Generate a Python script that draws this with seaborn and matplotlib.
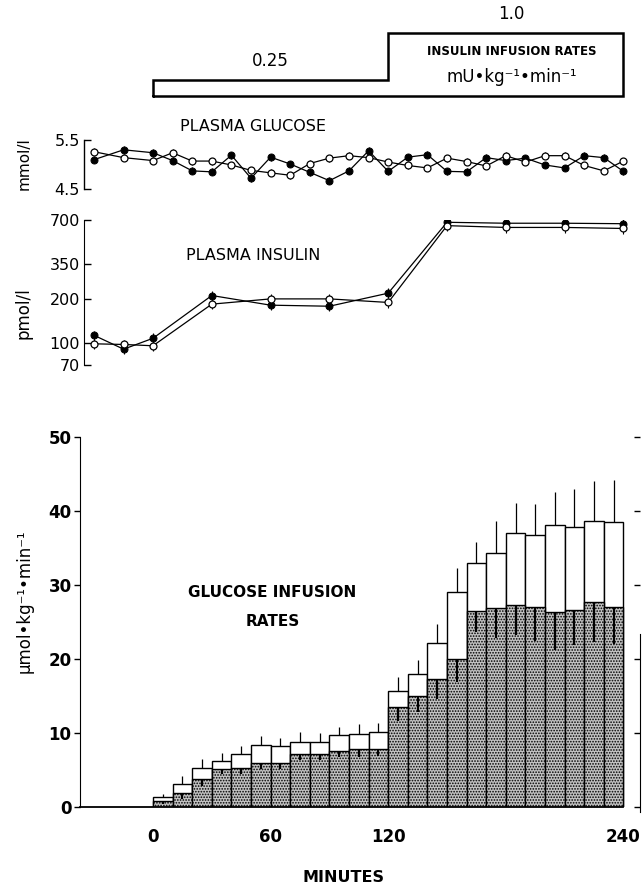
import numpy as np
import matplotlib
matplotlib.use("Agg")
import matplotlib.pyplot as plt
from matplotlib.ticker import NullLocator
import seaborn as sns

# insulin infusion protocol (mU/kg/min)
infusion_edges = [0, 120, 240]
infusion_rates = [0.25, 1.0]

# plasma glucose, mmol/l (filled = group 1, open = group 2)
glucose_minutes = [-30, -15, 0, 10, 20, 30, 40, 50, 60, 70, 80, 90, 100, 110,
                   120, 130, 140, 150, 160, 170, 180, 190, 200, 210, 220, 230, 240]
glucose_filled = [5.10, 5.30, 5.24, 5.08, 4.87, 4.85, 5.19, 4.72, 5.15, 5.01, 4.84, 4.67, 4.87, 5.28,
                  4.86, 5.15, 5.20, 4.86, 4.85, 5.14, 5.08, 5.13, 4.99, 4.93, 5.18, 5.14, 4.86]
glucose_open = [5.26, 5.14, 5.08, 5.24, 5.07, 5.07, 4.99, 4.88, 4.83, 4.78, 5.02, 5.13, 5.18, 5.14,
                5.05, 4.98, 4.93, 5.13, 5.06, 4.97, 5.18, 5.05, 5.18, 5.18, 4.98, 4.87, 5.07]
glucose_sem = 0.07

# plasma insulin, pmol/l
insulin_minutes = [-30, -15, 0, 30, 60, 90, 120, 150, 180, 210, 240]
insulin_filled = [112, 90, 107, 211, 181, 178, 219, 675, 665, 665, 660]
insulin_open = [98, 97, 95, 184, 200, 200, 189, 640, 622, 622, 612]
insulin_sem_frac = 0.08

# glucose infusion rates, umol/kg/min, 10-min periods
period_start = [0, 10, 20, 30, 40, 50, 60, 70, 80, 90, 100, 110,
                120, 130, 140, 150, 160, 170, 180, 190, 200, 210, 220, 230]
gir_total = [1.3, 3.1, 5.3, 6.2, 7.2, 8.4, 8.2, 8.8, 8.8, 9.7, 9.9, 10.1,
             15.7, 18.0, 22.2, 29.1, 33.0, 34.3, 37.0, 36.7, 38.1, 37.9, 38.6, 38.5]
gir_total_err = [0.5, 1.1, 1.2, 1.1, 1.1, 1.2, 1.1, 1.4, 1.2, 1.1, 1.3, 1.3,
                 1.9, 1.9, 2.5, 3.2, 2.8, 4.3, 4.1, 4.2, 4.5, 5.1, 5.5, 5.7]
gir_stippled = [0.8, 1.9, 3.8, 5.2, 5.3, 6.0, 6.0, 7.2, 7.2, 7.6, 7.8, 7.8,
                13.5, 15.0, 17.3, 20.0, 26.5, 26.9, 27.3, 27.0, 26.4, 26.6, 27.7, 27.0]
gir_stippled_err = [0.4, 0.8, 1.0, 0.8, 0.8, 0.9, 0.9, 0.9, 0.8, 0.9, 1.0, 0.9,
                    1.9, 2.1, 2.7, 3.1, 2.9, 4.1, 4.1, 4.5, 5.2, 4.7, 5.4, 5.0]

sns.set_style("white")
plt.rcParams["font.family"] = ["DejaVu Sans"]
plt.rcParams["hatch.linewidth"] = 0.8
plt.rcParams["hatch.color"] = "#3a3a3a"
for key in ["text.color", "axes.labelcolor", "xtick.color", "ytick.color", "axes.edgecolor"]:
    plt.rcParams[key] = "black"

W, H = 644, 889
X0, XS = 153, 1.96  # pixel of minute 0, pixels per minute

fig = plt.figure(figsize=(W / 100, H / 100), dpi=100)


def add_ax(left, top, right, bottom):
    ax = fig.add_axes([left / W, 1 - bottom / H, (right - left) / W, (bottom - top) / H])
    ax.set_xlim((left - X0) / XS, (right - X0) / XS)
    return ax


# ---- insulin infusion box ----
ax_box = add_ax(80, 0, 640, 100)
ax_box.set_ylim(-4 / 63, 96 / 63)
bx = [infusion_edges[0], infusion_edges[0], infusion_edges[1], infusion_edges[1],
      infusion_edges[2], infusion_edges[2], infusion_edges[0]]
by = [0, infusion_rates[0], infusion_rates[0], infusion_rates[1], infusion_rates[1], 0, 0]
ax_box.plot(bx, by, color="black", lw=1.8, solid_joinstyle="miter")
ax_box.text(60, infusion_rates[0] + 0.3, "0.25", ha="center", va="center", fontsize=12)
ax_box.text(183, infusion_rates[1] + 0.3, "1.0", ha="center", va="center", fontsize=12)
ax_box.text(183, 0.70, "INSULIN INFUSION RATES", ha="center", va="center", fontsize=8.5, fontweight="bold")
ax_box.text(183, 0.30, "mU•kg⁻¹•min⁻¹", ha="center", va="center", fontsize=12)
ax_box.axis("off")

# ---- plasma glucose ----
ax_glu = add_ax(84, 140, 640, 189)
ax_glu.errorbar(glucose_minutes, glucose_filled, yerr=glucose_sem, fmt="none", ecolor="black", elinewidth=0.8)
ax_glu.errorbar(glucose_minutes, glucose_open, yerr=glucose_sem, fmt="none", ecolor="black", elinewidth=0.8)
sns.lineplot(x=glucose_minutes, y=glucose_filled, ax=ax_glu, color="black", lw=0.9, marker="o",
             markersize=5, markerfacecolor="black", markeredgecolor="black")
sns.lineplot(x=glucose_minutes, y=glucose_open, ax=ax_glu, color="black", lw=0.9, marker="o",
             markersize=5, markerfacecolor="white", markeredgecolor="black", markeredgewidth=0.9)
ax_glu.set_ylim(4.5, 5.5)
ax_glu.set_yticks([4.5, 5.5])
ax_glu.set_yticklabels(["4.5", "5.5"], fontsize=11.5)
ax_glu.set_xticks([])
for s in ["top", "right", "bottom"]:
    ax_glu.spines[s].set_visible(False)
ax_glu.spines["left"].set_linewidth(1.0)
ax_glu.tick_params(axis="y", direction="in", length=5, width=1.0, pad=3, left=True)
ax_glu.text(51, 5.77, "PLASMA GLUCOSE", ha="center", va="center", fontsize=11.5)
ax_glu.set_ylabel("")
fig.text(24 / W, 1 - 164 / H, "mmol/l", rotation=90, ha="center", va="center", fontsize=11)

# ---- plasma insulin ----
ax_ins = add_ax(84, 220, 640, 365)
ax_ins.set_yscale("log")
ins_err_f = [v * insulin_sem_frac for v in insulin_filled]
ins_err_o = [v * insulin_sem_frac for v in insulin_open]
ax_ins.errorbar(insulin_minutes, insulin_filled, yerr=ins_err_f, fmt="none", ecolor="black", elinewidth=0.8)
ax_ins.errorbar(insulin_minutes, insulin_open, yerr=ins_err_o, fmt="none", ecolor="black", elinewidth=0.8)
sns.lineplot(x=insulin_minutes, y=insulin_filled, ax=ax_ins, color="black", lw=0.9, marker="o",
             markersize=5, markerfacecolor="black", markeredgecolor="black")
sns.lineplot(x=insulin_minutes, y=insulin_open, ax=ax_ins, color="black", lw=0.9, marker="o",
             markersize=5, markerfacecolor="white", markeredgecolor="black", markeredgewidth=0.9)
ax_ins.set_ylim(70, 700)
ax_ins.set_yticks([70, 100, 200, 350, 700])
ax_ins.set_yticklabels(["70", "100", "200", "350", "700"], fontsize=11.5)
ax_ins.yaxis.set_minor_locator(NullLocator())
ax_ins.set_xticks([])
for s in ["top", "right", "bottom"]:
    ax_ins.spines[s].set_visible(False)
ax_ins.tick_params(axis="y", direction="in", length=5, width=1.0, pad=3, left=True)
ax_ins.text(51, 400, "PLASMA INSULIN", ha="center", va="center", fontsize=11.5)
ax_ins.set_ylabel("")
fig.text(23 / W, 1 - 313 / H, "pmol/l", rotation=90, ha="center", va="center", fontsize=12)

# ---- glucose infusion rates ----
ax_bar = add_ax(80, 437, 640, 807)
mid = [t + 5 for t in period_start]
sns.barplot(x=mid, y=gir_total, ax=ax_bar, native_scale=True, width=1, color="white",
            saturation=1, edgecolor="black", linewidth=1.0, errorbar=None)
n_white = len(ax_bar.patches)
sns.barplot(x=mid, y=gir_stippled, ax=ax_bar, native_scale=True, width=1, color="#c2c2c2",
            saturation=1, edgecolor="black", linewidth=1.0, errorbar=None)
for p in ax_bar.patches[n_white:]:
    p.set_hatch("......")
zeros = [0] * len(mid)
ax_bar.errorbar(mid, gir_total, yerr=[zeros, gir_total_err], fmt="none", ecolor="black", elinewidth=0.9)
ax_bar.errorbar(mid, gir_stippled, yerr=[gir_stippled_err, zeros], fmt="none", ecolor="black", elinewidth=1.6)

ax_bar.set_xlim((80 - X0) / XS, (640 - X0) / XS)
ax_bar.set_ylim(0, 50)
ax_bar.set_yticks([0, 10, 20, 30, 40, 50])
ax_bar.set_yticklabels(["0", "10", "20", "30", "40", "50"], fontsize=12, fontweight="bold")
ax_bar.set_xticks([0, 60, 120, 240])
ax_bar.set_xticklabels(["0", "60", "120", "240"], fontsize=12, fontweight="bold")
ax_bar.tick_params(axis="x", length=0, pad=15)
ax_bar.tick_params(axis="y", direction="out", length=4, width=1.0, pad=2)
ax_bar.spines["top"].set_visible(False)
ax_bar.spines["bottom"].set_bounds((80 - X0) / XS, 240)
ax_bar.spines["bottom"].set_linewidth(1.3)
ax_bar.spines["right"].set_bounds(-0.7, 23.4)
ax_bar.set_xlabel("")
ax_bar.set_ylabel("")
ax_bar.text(61, 29, "GLUCOSE INFUSION", ha="center", va="center", fontsize=11, fontweight="bold")
ax_bar.text(61, 25.1, "RATES", ha="center", va="center", fontsize=11, fontweight="bold")

ax_r = ax_bar.twinx()
ax_r.set_ylim(0, 50)
ax_r.set_yticks([0, 10, 20, 30, 40, 50])
ax_r.set_yticklabels([])
ax_r.tick_params(axis="y", direction="in", length=4, width=1.0)
for s in ["top", "left", "bottom", "right"]:
    ax_r.spines[s].set_visible(False)

fig.text(25 / W, 1 - 601 / H, "μmol•kg⁻¹•min⁻¹", rotation=90, ha="center", va="center", fontsize=12)
fig.text(343 / W, 1 - 878 / H, "MINUTES", ha="center", va="center", fontsize=11.5, fontweight="bold")

fig.savefig("out.png", dpi=100)
